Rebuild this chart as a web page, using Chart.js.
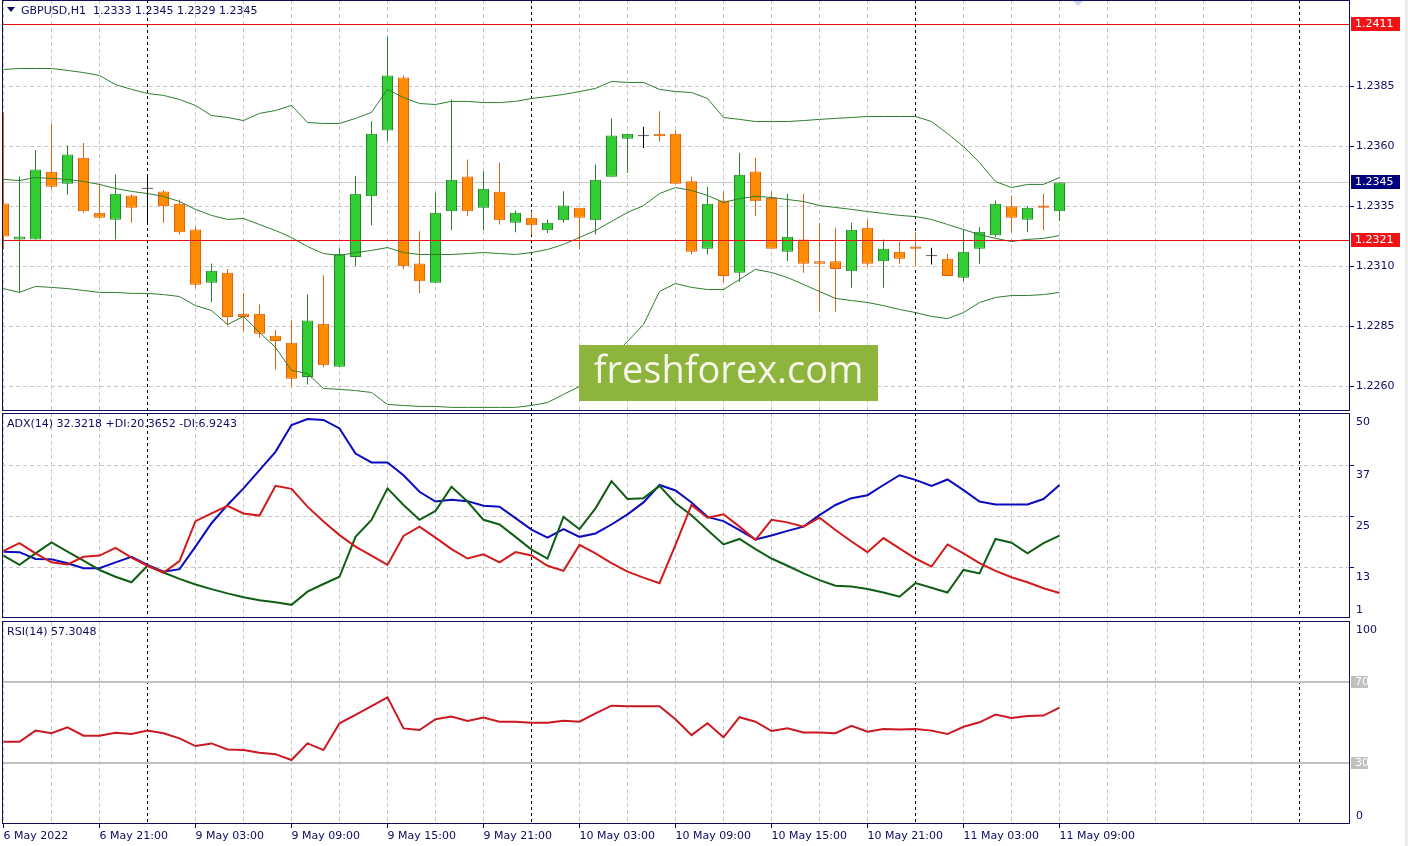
<!DOCTYPE html>
<html>
<head>
<meta charset="utf-8">
<script src="https://cdn.jsdelivr.net/npm/chart.js@4.4.1/dist/chart.umd.min.js"></script>
<style>
  html, body { margin: 0; padding: 0; background: #fff; }
  body { width: 1408px; height: 846px; position: relative; overflow: hidden; }
  .pane { position: absolute; left: 0; width: 1408px; }
  #p1 { top: 0; height: 411px; }
  #p2 { top: 413px; height: 205px; }
  #p3 { top: 621px; height: 225px; }
  #edge { position: absolute; top: 0; right: 0; width: 3px; height: 846px; background: #ececec; }
</style>
</head>
<body>
<div class="pane" id="p1"><canvas id="main"></canvas></div>
<div class="pane" id="p2"><canvas id="adx"></canvas></div>
<div class="pane" id="p3"><canvas id="rsi"></canvas></div>
<div id="edge"></div>
<script>
// GBPUSD H1, 6 May 15:00 .. 11 May 09:00 (one bar per hour, weekend skipped)
var tickLabels = ["6 May 2022", "6 May 21:00", "9 May 03:00", "9 May 09:00", "9 May 15:00", "9 May 21:00",
  "10 May 03:00", "10 May 09:00", "10 May 15:00", "10 May 21:00", "11 May 03:00", "11 May 09:00"];
var daySeparators = [9, 33, 57, 81];
var priceTicks = [1.2260, 1.2285, 1.2310, 1.2335, 1.2360, 1.2385];
var adxTicks = [13, 25, 37];

var opens = [1.23363, 1.23213, 1.23213, 1.23495, 1.23445, 1.23553, 1.23324, 1.23295, 1.23396, 1.23424,
  1.23413, 1.23361, 1.23254, 1.23032, 1.23074, 1.22903, 1.22903, 1.22811, 1.22782, 1.22640,
  1.22861, 1.22682, 1.23140, 1.23393, 1.23667, 1.23888, 1.23113, 1.23032, 1.23330, 1.23475,
  1.23345, 1.23411, 1.23282, 1.23303, 1.23251, 1.23293, 1.23345, 1.23293, 1.23474, 1.23632,
  1.23643, 1.23653, 1.23653, 1.23455, 1.23174, 1.23375, 1.23074, 1.23496, 1.23385, 1.23161,
  1.23213, 1.23122, 1.23122, 1.23080, 1.23261, 1.23122, 1.23161, 1.23183, 1.23143, 1.23132,
  1.23053, 1.23174, 1.23230, 1.23351, 1.23295, 1.23354, 1.23330];
var highs = [1.23742, 1.23475, 1.23585, 1.23696, 1.23604, 1.23615, 1.23445, 1.23483, 1.23400, 1.23483,
  1.23418, 1.23379, 1.23264, 1.23113, 1.23090, 1.22990, 1.22942, 1.22835, 1.22876, 1.22983,
  1.23064, 1.23175, 1.23477, 1.23705, 1.24057, 1.23896, 1.23247, 1.23407, 1.23796, 1.23546,
  1.23497, 1.23532, 1.23333, 1.23330, 1.23296, 1.23414, 1.23345, 1.23525, 1.23717, 1.23653,
  1.23682, 1.23747, 1.23667, 1.23474, 1.23432, 1.23411, 1.23574, 1.23553, 1.23411, 1.23403,
  1.23403, 1.23282, 1.23261, 1.23282, 1.23296, 1.23213, 1.23203, 1.23245, 1.23178, 1.23153,
  1.23254, 1.23264, 1.23375, 1.23396, 1.23351, 1.23403, 1.23450];
var lows = [1.23171, 1.22992, 1.23213, 1.23424, 1.23400, 1.23324, 1.23299, 1.23213, 1.23282, 1.23279,
  1.23282, 1.23233, 1.23011, 1.22951, 1.22854, 1.22830, 1.22803, 1.22671, 1.22601, 1.22608,
  1.22680, 1.22682, 1.23101, 1.23272, 1.23622, 1.23090, 1.22990, 1.23032, 1.23251, 1.23310,
  1.23251, 1.23275, 1.23243, 1.23233, 1.23240, 1.23282, 1.23171, 1.23233, 1.23474, 1.23490,
  1.23594, 1.23622, 1.23445, 1.23150, 1.23150, 1.23032, 1.23035, 1.23310, 1.23174, 1.23122,
  1.23074, 1.22911, 1.22911, 1.23011, 1.23101, 1.23011, 1.23111, 1.23101, 1.23108, 1.23060,
  1.23039, 1.23111, 1.23222, 1.23243, 1.23243, 1.23251, 1.23290];
var closes = [1.23225, 1.23225, 1.23504, 1.23432, 1.23567, 1.23330, 1.23303, 1.23403, 1.23345, 1.23424,
  1.23351, 1.23243, 1.23024, 1.23082, 1.22890, 1.22890, 1.22820, 1.22790, 1.22632, 1.22875,
  1.22689, 1.23153, 1.23403, 1.23653, 1.23896, 1.23101, 1.23039, 1.23324, 1.23461, 1.23330,
  1.23424, 1.23293, 1.23324, 1.23272, 1.23282, 1.23354, 1.23303, 1.23461, 1.23646, 1.23653,
  1.23643, 1.23643, 1.23445, 1.23161, 1.23361, 1.23060, 1.23482, 1.23372, 1.23174, 1.23224,
  1.23111, 1.23111, 1.23090, 1.23253, 1.23111, 1.23174, 1.23132, 1.23174, 1.23143, 1.23060,
  1.23161, 1.23245, 1.23361, 1.23303, 1.23345, 1.23345, 1.23450];

var bbUpper = [1.23921, 1.23925, 1.23925, 1.23925, 1.23917, 1.23908, 1.23896, 1.23858, 1.23838, 1.23821,
  1.23813, 1.23796, 1.23771, 1.23729, 1.23721, 1.23708, 1.23738, 1.23750, 1.23771, 1.23700,
  1.23696, 1.23696, 1.23717, 1.23742, 1.23838, 1.23804, 1.23779, 1.23775, 1.23788, 1.23788,
  1.23783, 1.23783, 1.23788, 1.23800, 1.23808, 1.23817, 1.23829, 1.23842, 1.23871, 1.23867,
  1.23867, 1.23838, 1.23829, 1.23825, 1.23800, 1.23721, 1.23713, 1.23704, 1.23704, 1.23704,
  1.23708, 1.23713, 1.23717, 1.23721, 1.23725, 1.23725, 1.23725, 1.23725, 1.23704, 1.23654,
  1.23600, 1.23533, 1.23454, 1.23429, 1.23442, 1.23442, 1.23471];
var bbMiddle = [1.23463, 1.23458, 1.23471, 1.23467, 1.23463, 1.23454, 1.23442, 1.23425, 1.23413, 1.23404,
  1.23392, 1.23371, 1.23338, 1.23313, 1.23296, 1.23300, 1.23275, 1.23250, 1.23221, 1.23183,
  1.23154, 1.23146, 1.23158, 1.23167, 1.23179, 1.23158, 1.23150, 1.23150, 1.23150, 1.23154,
  1.23158, 1.23154, 1.23150, 1.23158, 1.23171, 1.23192, 1.23221, 1.23250, 1.23288, 1.23325,
  1.23354, 1.23404, 1.23429, 1.23417, 1.23396, 1.23367, 1.23383, 1.23392, 1.23388, 1.23379,
  1.23371, 1.23354, 1.23346, 1.23338, 1.23329, 1.23321, 1.23313, 1.23308, 1.23296, 1.23275,
  1.23254, 1.23233, 1.23217, 1.23204, 1.23213, 1.23217, 1.23229];
var bbLower = [1.23008, 1.22992, 1.23017, 1.23013, 1.23008, 1.23000, 1.22992, 1.22992, 1.22988, 1.22988,
  1.22983, 1.22975, 1.22937, 1.22917, 1.22858, 1.22892, 1.22825, 1.22763, 1.22667, 1.22654,
  1.22592, 1.22588, 1.22583, 1.22575, 1.22525, 1.22521, 1.22517, 1.22517, 1.22513, 1.22513,
  1.22513, 1.22513, 1.22513, 1.22521, 1.22533, 1.22567, 1.22600, 1.22654, 1.22721, 1.22788,
  1.22858, 1.22996, 1.23029, 1.23013, 1.23004, 1.23004, 1.23046, 1.23088, 1.23075, 1.23054,
  1.23025, 1.22996, 1.22967, 1.22958, 1.22950, 1.22937, 1.22921, 1.22908, 1.22892, 1.22883,
  1.22908, 1.22950, 1.22971, 1.22979, 1.22979, 1.22983, 1.22992];

var adx = [16.6, 16.5, 14.9, 14.8, 13.9, 12.7, 12.7, 14.1, 15.4, 13.5,
  11.9, 12.5, 17.8, 23.3, 27.6, 31.5, 35.8, 40.1, 46.4, 47.8,
  47.6, 45.6, 39.7, 37.6, 37.6, 34.6, 30.7, 28.4, 28.8, 28.5,
  27.4, 27.2, 24.5, 21.8, 19.9, 21.9, 20.1, 20.9, 23.0, 25.4,
  28.2, 32.3, 31.0, 28.2, 24.8, 23.8, 21.7, 19.5, 20.4, 21.5,
  22.5, 25.2, 27.6, 29.2, 29.9, 32.3, 34.6, 33.5, 32.1, 33.6,
  31.1, 28.4, 27.7, 27.7, 27.7, 29.0, 32.3];
var plusDI = [15.7, 13.5, 16.2, 18.8, 16.6, 14.5, 12.3, 10.7, 9.4, 13.3,
  11.7, 10.2, 8.9, 7.8, 6.8, 5.9, 5.2, 4.7, 4.1, 7.2,
  9.0, 10.7, 20.1, 24.1, 31.5, 27.6, 24.1, 26.2, 31.9, 28.4,
  24.1, 23.0, 20.1, 17.1, 15.0, 24.8, 21.9, 26.8, 33.2, 29.0,
  29.2, 32.1, 28.0, 25.2, 21.7, 18.3, 19.6, 17.2, 15.0, 13.3,
  11.5, 9.9, 8.6, 8.4, 7.8, 7.0, 6.0, 9.2, 8.1, 7.0,
  12.3, 11.5, 19.6, 18.7, 16.2, 18.6, 20.4];
var minusDI = [16.8, 18.6, 16.2, 14.1, 13.6, 15.4, 15.7, 17.5, 15.2, 13.3,
  11.7, 14.4, 23.8, 25.6, 27.4, 25.6, 25.1, 32.1, 31.4, 27.2,
  23.7, 20.5, 17.8, 15.7, 13.5, 20.3, 22.5, 19.9, 17.2, 15.0,
  16.0, 14.1, 16.5, 15.7, 13.3, 12.1, 18.2, 16.2, 13.9, 11.9,
  10.5, 9.2, 18.2, 27.6, 24.6, 25.4, 22.5, 19.4, 24.1, 23.5,
  22.5, 24.6, 21.7, 19.0, 16.5, 19.8, 17.4, 15.0, 13.1, 18.3,
  16.2, 13.9, 12.1, 10.6, 9.4, 8.0, 6.9];
var rsi = [40.5, 40.5, 46.0, 44.7, 47.6, 43.5, 43.5, 45.0, 44.3, 46.0,
  44.7, 42.2, 38.4, 39.7, 36.7, 36.4, 35.1, 34.4, 31.5, 39.7,
  36.4, 49.6, 53.7, 58.1, 62.4, 47.1, 46.3, 51.6, 52.9, 50.7,
  52.4, 50.4, 50.4, 49.9, 49.9, 50.9, 50.4, 54.5, 58.3, 58.0,
  58.0, 58.0, 51.6, 43.8, 49.6, 42.7, 52.6, 50.4, 45.8, 47.1,
  45.1, 45.1, 44.7, 48.4, 45.5, 46.8, 46.5, 46.8, 46.0, 44.3,
  47.9, 50.1, 53.9, 52.2, 53.2, 53.4, 57.3];

var NAVY = "#0c0c62";
var GRID = "#c8c8c8";
var FONT = '11px "DejaVu Sans"';
var X_MIN = -0.09375, X_MAX = 84.15625;

Chart.defaults.font.family = '"DejaVu Sans"';
Chart.defaults.font.size = 11;
Chart.defaults.color = NAVY;

function pts(arr) { return arr.map(function (v, i) { return { x: i, y: v }; }); }
function isSep(v) { return daySeparators.indexOf(v) >= 0; }
function labelFor(v) {
  if (v % 6 !== 0) return "";
  return tickLabels[v / 6] || "";
}

function xScale(showLabels) {
  return {
    type: "linear", min: X_MIN, max: X_MAX, offset: false,
    grid: {
      offset: false,
      color: function (c) { return c.tick && isSep(c.tick.value) ? "#000000" : GRID; },
      drawTicks: showLabels,
      tickLength: 4,
      tickColor: function (c) { return c.tick && labelFor(c.tick.value) ? NAVY : "rgba(0,0,0,0)"; },
      tickBorderDash: []
    },
    border: { display: false, dash: function (c) { return c.tick && isSep(c.tick.value) ? [3, 3] : [4, 3]; } },
    ticks: {
      display: showLabels, autoSkip: false, maxRotation: 0, minRotation: 0,
      align: "start", padding: 2, color: NAVY,
      callback: function (v) { return labelFor(v); }
    },
    afterBuildTicks: function (s) {
      var t = [];
      for (var v = 0; v <= 81; v += 3) t.push({ value: v });
      s.ticks = t;
    },
    afterFit: function (s) {
      s.height = showLabels ? 22 : 0;
      s.paddingLeft = 0; s.paddingRight = 0;
    }
  };
}

function hline(chart, l) {
  var ctx = chart.ctx, a = chart.chartArea;
  var y = Math.round(chart.scales.y.getPixelForValue(l.v));
  ctx.save();
  ctx.strokeStyle = l.color;
  ctx.lineWidth = l.w || 1;
  ctx.beginPath();
  var off = (l.w || 1) % 2 ? 0.5 : 0;
  ctx.moveTo(a.left, y + off);
  ctx.lineTo(a.right, y + off);
  ctx.stroke();
  ctx.restore();
}

var deco = {
  id: "deco",
  beforeDatasetsDraw: function (chart, args, o) {
    (o.under || []).forEach(function (l) { hline(chart, l); });
  },
  afterDatasetsDraw: function (chart, args, o) {
    var ctx = chart.ctx, a = chart.chartArea;
    (o.over || []).forEach(function (l) { hline(chart, l); });
    if (o.watermark) {
      ctx.save();
      ctx.fillStyle = "#8db43c";
      ctx.fillRect(579, 345, 299, 56);
      ctx.fillStyle = "#f6f6ea";
      ctx.font = '38px "Open Sans"';
      ctx.textAlign = "center";
      ctx.textBaseline = "middle";
      ctx.fillText(o.watermark, 728.5, 372);
      ctx.restore();
    }
    if (o.shiftMark) {
      // chart-shift marker at the top edge
      ctx.save();
      ctx.fillStyle = "#cfd0ea";
      ctx.beginPath();
      ctx.moveTo(1072, 0); ctx.lineTo(1084, 0); ctx.lineTo(1078, 6); ctx.closePath();
      ctx.fill();
      ctx.restore();
    }
    ctx.save();
    ctx.strokeStyle = "#10105a";
    ctx.lineWidth = 1;
    ctx.strokeRect(a.left + 0.5, a.top + 0.5, a.right - a.left - 1, a.bottom - a.top - 1);
    ctx.restore();
  },
  afterDraw: function (chart, args, o) {
    var ctx = chart.ctx, a = chart.chartArea, ys = chart.scales.y;
    ctx.save();
    ctx.font = FONT;
    ctx.textBaseline = "middle";
    ctx.textAlign = "left";
    (o.labels || []).forEach(function (l) {
      var py;
      if (l.at === "top") py = a.top + l.dy;
      else if (l.at === "bottom") py = a.bottom + l.dy;
      else py = ys.getPixelForValue(l.v) + l.dy;
      ctx.fillStyle = NAVY;
      ctx.fillText(l.t, a.right + 6, py);
    });
    (o.boxes || []).forEach(function (b) {
      var py = Math.round(ys.getPixelForValue(b.v));
      ctx.fillStyle = b.bg;
      ctx.fillRect(a.right + 1, py - b.h / 2, b.w, b.h);
      ctx.fillStyle = b.fg;
      ctx.fillText(b.t, a.right + 5, py + 0.5);
    });
    if (o.title) {
      var tx = a.left + 5;
      if (o.arrow) {
        ctx.fillStyle = NAVY;
        ctx.beginPath();
        ctx.moveTo(7, 7); ctx.lineTo(15, 7); ctx.lineTo(11, 12); ctx.closePath();
        ctx.fill();
        tx = 21;
      }
      ctx.fillStyle = NAVY;
      ctx.fillText(o.title, tx, a.top + 11);
    }
    ctx.restore();
  }
};

var baseOpts = {
  responsive: true, maintainAspectRatio: false, animation: false, devicePixelRatio: 1,
  layout: { padding: { left: 2, right: 0, top: 0, bottom: 0 } },
  plugins: { legend: { display: false }, tooltip: { enabled: false } }
};
function yFit(s) { s.width = 58; s.paddingTop = 0; s.paddingBottom = 0; }

// ---- main price pane ----
var bull = closes.map(function (c, i) { return c > opens[i]; });
var doji = closes.map(function (c, i) { return c === opens[i]; });
function candleColor(i, up, down) { return doji[i] ? "#000000" : (bull[i] ? up : down); }
var bodyFill = opens.map(function (o, i) { return candleColor(i, "#32cd32", "#ff8c00"); });
var bodyLine = opens.map(function (o, i) { return candleColor(i, "#23862a", "#e0620e"); });

new Chart(document.getElementById("main"), {
  type: "bar",
  data: {
    datasets: [
      { type: "line", data: pts(bbUpper), borderColor: "#2f7d2f", borderWidth: 1, pointRadius: 0, order: 0 },
      { type: "line", data: pts(bbMiddle), borderColor: "#2f7d2f", borderWidth: 1, pointRadius: 0, order: 0 },
      { type: "line", data: pts(bbLower), borderColor: "#2f7d2f", borderWidth: 1, pointRadius: 0, order: 0 },
      {
        data: opens.map(function (o, i) { return { x: i, y: [o, closes[i]] }; }),
        backgroundColor: bodyFill, borderColor: bodyLine, borderWidth: 1, borderSkipped: false,
        barThickness: 11, grouped: false, minBarLength: 1, inflateAmount: 0, order: 1
      },
      {
        data: lows.map(function (l, i) { return { x: i, y: [l, highs[i]] }; }),
        backgroundColor: bodyLine, borderWidth: 0,
        barThickness: 1, grouped: false, minBarLength: 1, inflateAmount: 0, order: 2
      }
    ]
  },
  options: Object.assign({}, baseOpts, {
    scales: {
      x: xScale(false),
      y: {
        type: "linear", position: "right", min: 1.224979, max: 1.242104,
        grid: { color: GRID, tickLength: 4, tickColor: NAVY, tickBorderDash: [] },
        border: { display: false, dash: [4, 3] },
        ticks: { color: NAVY, padding: 2, callback: function (v) { return v.toFixed(4); } },
        afterBuildTicks: function (s) { s.ticks = priceTicks.map(function (v) { return { value: v }; }); },
        afterFit: yFit
      }
    },
    plugins: Object.assign({}, baseOpts.plugins, {
      deco: {
        title: "GBPUSD,H1  1.2333 1.2345 1.2329 1.2345", arrow: true, shiftMark: true,
        under: [{ v: 1.2345, color: "#c8c8c8", w: 1 }],
        over: [{ v: 1.2411, color: "#e41010", w: 1 }, { v: 1.2321, color: "#e41010", w: 1 }],
        boxes: [
          { v: 1.2411, t: "1.2411", bg: "#f21414", fg: "#ffffff", w: 49, h: 14 },
          { v: 1.2345, t: "1.2345", bg: "#00007e", fg: "#ffffff", w: 49, h: 14 },
          { v: 1.2321, t: "1.2321", bg: "#f21414", fg: "#ffffff", w: 49, h: 14 }
        ],
        watermark: "freshforex.com"
      }
    })
  }),
  plugins: [deco]
});

// ---- ADX pane ----
new Chart(document.getElementById("adx"), {
  type: "line",
  data: {
    datasets: [
      { data: pts(minusDI), borderColor: "#d21a1a", borderWidth: 2, pointRadius: 0, order: 0 },
      { data: pts(plusDI), borderColor: "#0f5e14", borderWidth: 2, pointRadius: 0, order: 1 },
      { data: pts(adx), borderColor: "#0a0ac0", borderWidth: 2, pointRadius: 0, order: 2 }
    ]
  },
  options: Object.assign({}, baseOpts, {
    scales: {
      x: xScale(false),
      y: {
        type: "linear", position: "right", min: 1.0, max: 49.24,
        grid: { color: GRID, tickLength: 4, tickColor: NAVY, tickBorderDash: [] },
        border: { display: false, dash: [4, 3] },
        ticks: { display: false },
        afterBuildTicks: function (s) { s.ticks = adxTicks.map(function (v) { return { value: v }; }); },
        afterFit: yFit
      }
    },
    plugins: Object.assign({}, baseOpts.plugins, {
      deco: {
        title: "ADX(14) 32.3218 +DI:20.3652 -DI:6.9243",
        labels: [
          { at: "top", t: "50", dy: 9 },
          { v: 37, t: "37", dy: 10 },
          { v: 25, t: "25", dy: 10 },
          { v: 13, t: "13", dy: 10 },
          { at: "bottom", t: "1", dy: -8 }
        ]
      }
    })
  }),
  plugins: [deco]
});

// ---- RSI pane ----
new Chart(document.getElementById("rsi"), {
  type: "line",
  data: {
    datasets: [
      { data: pts(rsi), borderColor: "#cc1820", borderWidth: 2, pointRadius: 0 }
    ]
  },
  options: Object.assign({}, baseOpts, {
    scales: {
      x: xScale(true),
      y: {
        type: "linear", position: "right", min: 0, max: 100,
        grid: { display: false },
        border: { display: false },
        ticks: { display: false },
        afterFit: yFit
      }
    },
    plugins: Object.assign({}, baseOpts.plugins, {
      deco: {
        title: "RSI(14) 57.3048",
        under: [{ v: 70, color: "#c0c0c0", w: 2 }, { v: 30, color: "#c0c0c0", w: 2 }],
        labels: [
          { at: "top", t: "100", dy: 9 },
          { at: "bottom", t: "0", dy: -8 }
        ],
        boxes: [
          { v: 70, t: "70", bg: "#c0c0c0", fg: "#ffffff", w: 17, h: 12 },
          { v: 30, t: "30", bg: "#c0c0c0", fg: "#ffffff", w: 17, h: 12 }
        ]
      }
    })
  }),
  plugins: [deco]
});
</script>
</body>
</html>
